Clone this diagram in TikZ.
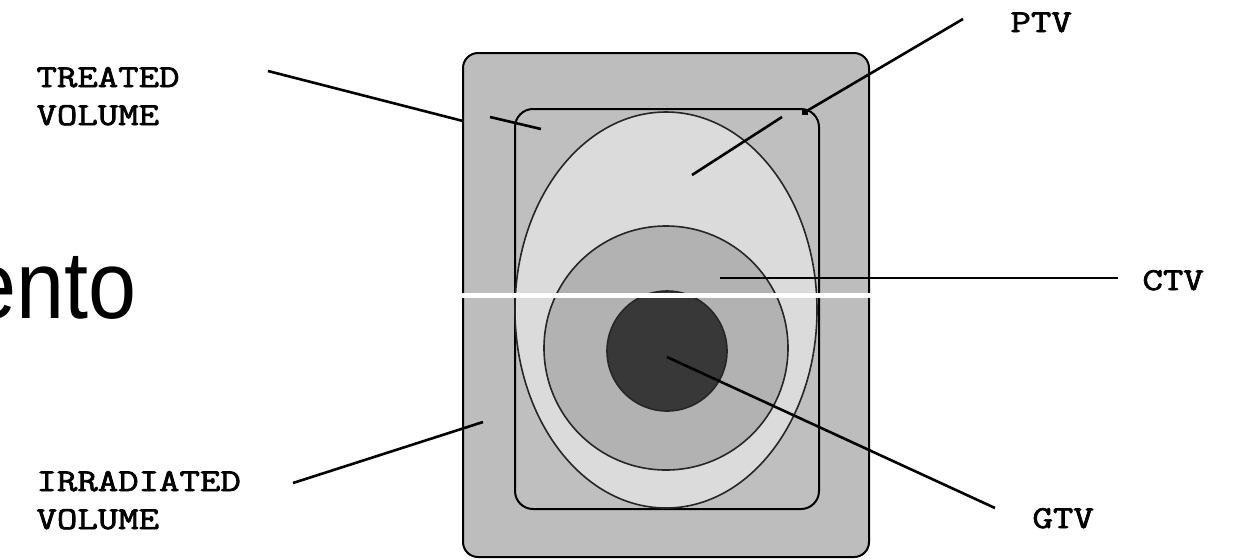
\documentclass[tikz,border=0pt]{standalone}
\usepackage{fontspec}
\newfontfamily\arialf{Liberation Sans}
\newfontfamily\lblfont{Latin Modern Mono}[FakeBold=2]
\definecolor{outerg}{gray}{0.74}
\definecolor{innerg}{gray}{0.75}
\definecolor{ptvg}{gray}{0.86}
\definecolor{ctvg}{gray}{0.70}
\definecolor{gtvg}{gray}{0.22}
\tikzset{
  lbl/.style={font=\lblfont\fontsize{16}{19}\selectfont, inner sep=0pt, align=left, anchor=base west, xscale=1.24},
  pointer/.style={draw=black, line width=1.3pt},
  outline/.style={draw=black, line width=1pt},
  contour/.style={draw=black!85, line width=0.8pt}
}
\begin{document}
\begin{tikzpicture}[x=0.5pt,y=-0.5pt]
\useasboundingbox (0,0) rectangle (1253,559);
\fill[white] (0,0) rectangle (1253,559);
\clip (0,0) rectangle (1253,559);

% big text fragment
\node[font=\arialf\fontsize{48}{52}\selectfont, inner sep=0pt, anchor=base east, xscale=0.9] (ento) at (137,318) {ento};

% shapes
\draw[outline, fill=outerg, rounded corners=7.5pt] (463,53) rectangle (869,557);
\draw[outline, fill=innerg, rounded corners=9pt] (515,109) rectangle (819,509);
\draw[contour, fill=ptvg] (666,310) ellipse [x radius=151, y radius=198];
\draw[contour, fill=ctvg] (666,348) circle [radius=122];
\draw[contour, fill=gtvg] (667,351) circle [radius=60];

% labels
\node[lbl] (treated) at (36,125) {TREATED\\VOLUME};
\node[lbl] (irradiated) at (36,529) {IRRADIATED\\VOLUME};
\node[lbl] (ptv) at (1010,32) {PTV};
\node[lbl] (ctv) at (1142,290) {CTV};
\node[lbl] (gtv) at (1032,528) {GTV};

% connector ends
\coordinate (tA) at (268,71);
\coordinate (tB) at (463,121);
\coordinate (tC) at (490,117);
\coordinate (tD) at (541,129);
\coordinate (pA) at (963,19);
\coordinate (pB) at (805,112);
\coordinate (pC) at (782,117);
\coordinate (pD) at (692,175);
\coordinate (cA) at (720,278);
\coordinate (cB) at (1118,278);
\coordinate (gA) at (667,357);
\coordinate (gB) at (995,508);
\coordinate (iA) at (293,483);
\coordinate (iB) at (483,422);

% connectors
\draw[pointer] (tA) -- (tB);
\draw[pointer] (tC) -- (tD);
\draw[pointer] (pA) -- (pB);
\node[fill=black, inner sep=0pt, minimum width=3pt, minimum height=2.5pt] (pBsq) at (pB) {};
\draw[pointer] (pC) -- (pD);
\draw[pointer] (cA) -- (cB);
\draw[pointer] (gA) -- (gB);
\draw[pointer] (iA) -- (iB);

% white band
\fill[white] (455,293) rectangle (872,298);
\end{tikzpicture}
\end{document}
